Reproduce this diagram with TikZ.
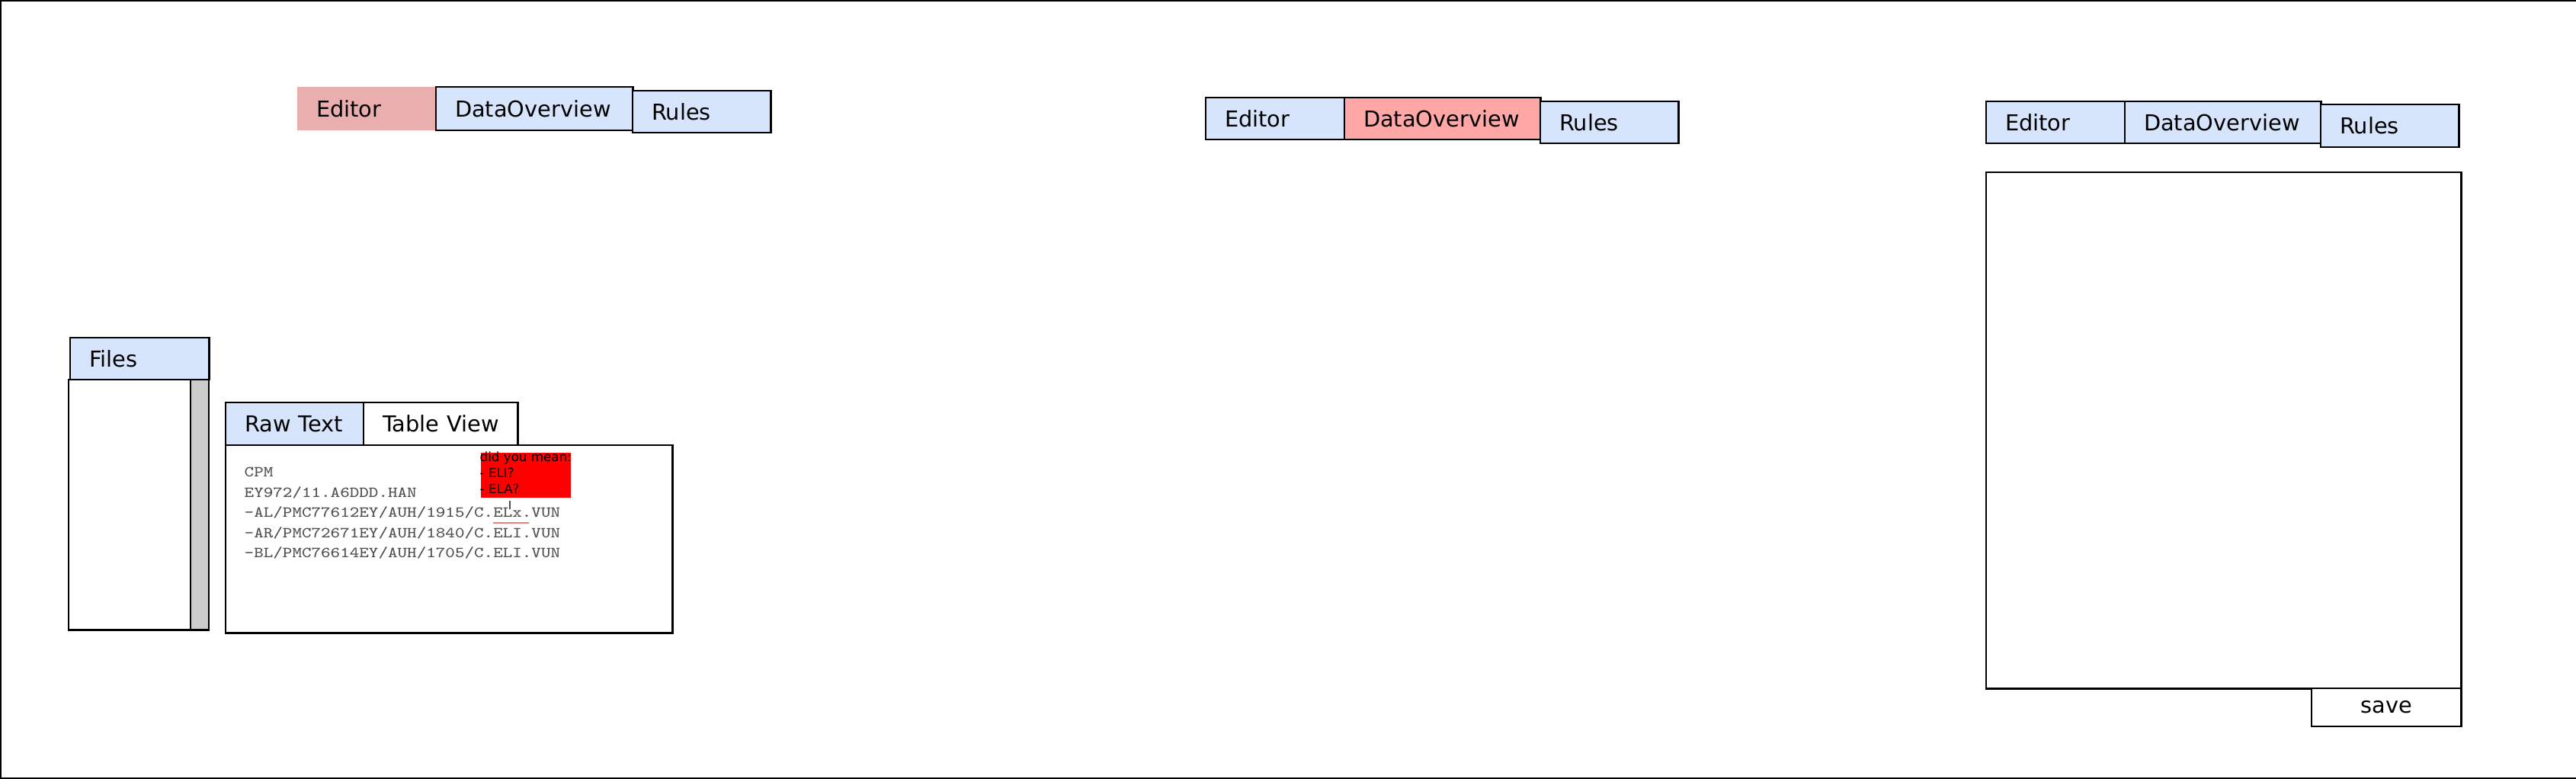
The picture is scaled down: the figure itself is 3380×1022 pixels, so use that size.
\documentclass[tikz,border=0pt]{standalone}
\usepackage{fontspec}
\newfontfamily\labfont{DejaVu Sans}
\newfontfamily\monofont[FakeStretch=1.18]{Latin Modern Mono}
\definecolor{tabblue}{HTML}{D6E4FC}
\definecolor{tabpink}{HTML}{EAAEAE}
\definecolor{tabsalmon}{HTML}{FFA6A6}
\definecolor{scrollgray}{HTML}{CCCCCC}
\definecolor{monogray}{HTML}{505050}
\definecolor{underred}{HTML}{F08080}
\tikzset{
  frame/.style={draw=black, line width=0.8pt, outer sep=0pt, inner sep=0pt, anchor=north west},
  tabbox/.style={frame, fill=tabblue, inner xsep=0.25cm, inner ysep=0pt, align=left,
    font=\labfont\fontsize{8.2}{9.8}\selectfont},
  plainbox/.style={frame, fill=white},
  monotext/.style={anchor=base west, inner sep=0pt, text=monogray,
    font=\monofont\fontsize{5.7}{7.5}\selectfont},
  hinttext/.style={anchor=base west, inner sep=0pt, text=black,
    font=\labfont\fontsize{4.75}{6}\selectfont}
}
\begin{document}
\begin{tikzpicture}[x=0.01cm, y=-0.01cm]
\useasboundingbox (0,0) rectangle (3380,1022);
\node[frame, minimum width=33.78cm, minimum height=10.2cm] (outer) at (1,1) {};

% group 1
\node[tabbox, draw=none, fill=tabpink, text width=1.32cm, minimum height=0.57cm] (ed1) at (390,114) {\rlap{Editor}};
\node[tabbox, text width=2.08cm, minimum height=0.57cm] (do1) at (572,114) {\rlap{DataOverview}};
\node[tabbox, text width=1.31cm, minimum height=0.55cm] (ru1) at (830,119) {\rlap{Rules}};

% group 2
\node[tabbox, text width=1.32cm, minimum height=0.55cm] (ed2) at (1582,128) {\rlap{Editor}};
\node[tabbox, fill=tabsalmon, text width=2.07cm, minimum height=0.55cm] (do2) at (1764,128) {\rlap{DataOverview}};
\node[tabbox, text width=1.31cm, minimum height=0.55cm] (ru2) at (2021,133) {\rlap{Rules}};

% group 3
\node[tabbox, text width=1.32cm, minimum height=0.55cm] (ed3) at (2606,133) {\rlap{Editor}};
\node[tabbox, text width=2.07cm, minimum height=0.55cm] (do3) at (2788,133) {\rlap{DataOverview}};
\node[tabbox, text width=1.31cm, minimum height=0.56cm] (ru3) at (3045,137) {\rlap{Rules}};
\node[plainbox, minimum width=6.23cm, minimum height=6.77cm] (rulearea) at (2606,226) {};
\node[plainbox, minimum width=1.96cm, minimum height=0.50cm, font=\labfont\fontsize{8.2}{9.8}\selectfont] (save) at (3033,903) {save};

% files panel
\node[tabbox, text width=1.32cm, minimum height=0.55cm] (files) at (92,443) {\rlap{Files}};
\node[plainbox, minimum width=1.60cm, minimum height=3.28cm] (filelist) at (90,498) {};
\node[frame, fill=scrollgray, minimum width=0.24cm, minimum height=3.28cm] (scroll) at (250,498) {};

% raw text panel
\node[tabbox, text width=1.31cm, minimum height=0.56cm] (raw) at (296,528) {\rlap{Raw Text}};
\node[tabbox, fill=white, text width=1.52cm, minimum height=0.56cm] (table) at (477,528) {\rlap{Table View}};
\node[plainbox, minimum width=5.86cm, minimum height=2.46cm] (textarea) at (296,584) {};

\node[monotext] (code1) at (320,626) {CPM};
\node[monotext] (code2) at (320,652.5) {EY972/11.A6DDD.HAN};
\node[monotext] (code3) at (320,679) {-AL/PMC77612EY/AUH/1915/C.ELx.VUN};
\node[monotext] (code4) at (320,705.5) {-AR/PMC72671EY/AUH/1840/C.ELI.VUN};
\node[monotext] (code5) at (320,732) {-BL/PMC76614EY/AUH/1705/C.ELI.VUN};

% suggestion popup
\node[anchor=north west, fill=red, inner sep=0pt, minimum width=1.18cm, minimum height=0.59cm] (popup) at (630,593) {};
\node[hinttext] (hint1) at (629,606) {did you mean:};
\node[hinttext] (hint2) at (629,627) {- ELI?};
\node[hinttext] (hint3) at (629,648) {- ELA?};

\coordinate (curtop) at (669,657);
\coordinate (curbot) at (669,668);
\draw[line width=0.4pt, draw=black!70] (curtop) -- (curbot);
\coordinate (ulstart) at (647,686);
\coordinate (ulend) at (694,686);
\draw[line width=0.6pt, draw=underred] (ulstart) -- (ulend);
\end{tikzpicture}
\end{document}
